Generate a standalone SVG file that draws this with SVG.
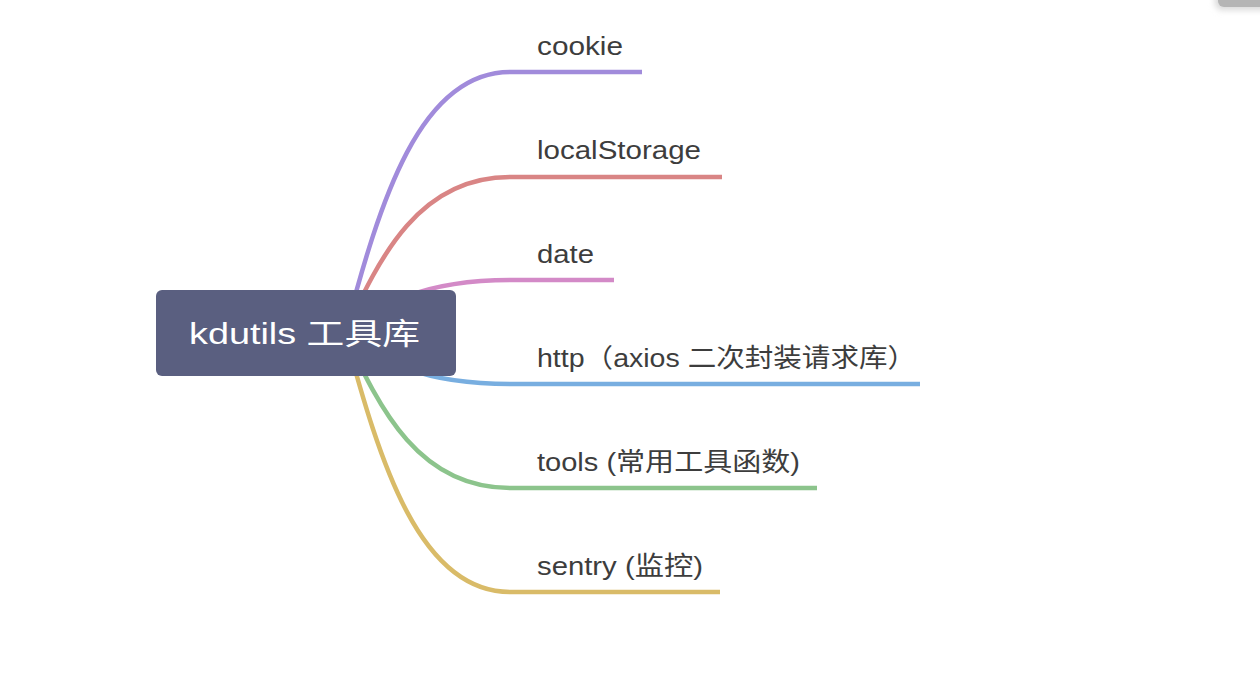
<svg xmlns="http://www.w3.org/2000/svg" width="1260" height="686" viewBox="0 0 1260 686">
<style>
.br{fill:none;stroke-width:4.5;stroke-linecap:butt}
.lbl{font-family:"Liberation Sans","Noto Sans CJK SC",sans-serif;font-size:26px;fill:#3d3d3d}
.root{font-family:"Liberation Sans","Noto Sans CJK SC",sans-serif;font-size:30px;fill:#ffffff}
</style>
<defs>
<filter id="sh" x="-50%" y="-50%" width="200%" height="200%"><feGaussianBlur stdDeviation="3"/></filter>
</defs>
<rect width="1260" height="686" fill="#ffffff"/>
<g id="corner">
<rect x="1215" y="-30" width="70" height="40" rx="7" fill="#d8d8d8" filter="url(#sh)"/>
<rect x="1218" y="-30" width="70" height="37" rx="6" fill="#b5b5b5"/>
</g>
<g id="connectors">
<path class="br" stroke="#a18bdb" d="M345 333 C380 200 420 72 510 72 L642 72"/>
<path class="br" stroke="#d98585" d="M345 333 C380 255 420 177 510 177 L722 177"/>
<path class="br" stroke="#d38ac7" d="M345 333 C380 306 420 280 510 280 L614 280"/>
<path class="br" stroke="#78aee0" d="M345 333 C380 360 420 384 510 384 L920 384"/>
<path class="br" stroke="#8cc48c" d="M345 333 C380 411 420 488 510 488 L817 488"/>
<path class="br" stroke="#d9bb68" d="M345 333 C380 464 420 592 510 592 L720 592"/>
</g>
<g id="root">
<rect x="156" y="290" width="300" height="86" rx="6" fill="#5a5f80"/>
<text class="root" x="189" y="344" textLength="231" lengthAdjust="spacingAndGlyphs">kdutils 工具库</text>
</g>
<g id="n-cookie"><text class="lbl" x="537" y="55" textLength="86" lengthAdjust="spacingAndGlyphs">cookie</text></g>
<g id="n-localStorage"><text class="lbl" x="537" y="159" textLength="164" lengthAdjust="spacingAndGlyphs">localStorage</text></g>
<g id="n-date"><text class="lbl" x="537" y="263" textLength="57" lengthAdjust="spacingAndGlyphs">date</text></g>
<g id="n-http"><text class="lbl" x="537" y="367" textLength="379" lengthAdjust="spacingAndGlyphs">http（axios 二次封装请求库）</text></g>
<g id="n-tools"><text class="lbl" x="537" y="471" textLength="263" lengthAdjust="spacingAndGlyphs">tools (常用工具函数)</text></g>
<g id="n-sentry"><text class="lbl" x="537" y="575" textLength="166" lengthAdjust="spacingAndGlyphs">sentry (监控)</text></g>
</svg>
